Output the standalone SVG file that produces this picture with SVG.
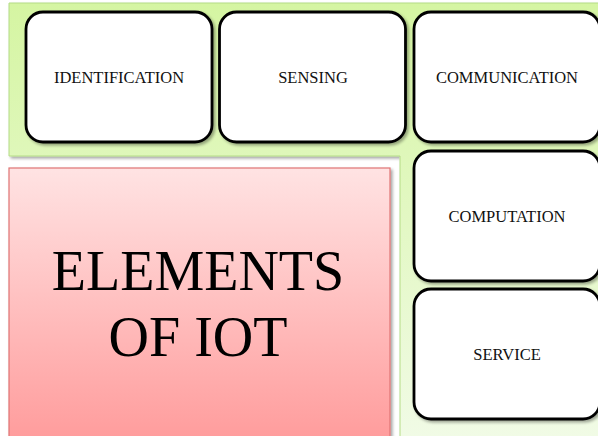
<svg xmlns="http://www.w3.org/2000/svg" width="598" height="436" viewBox="0 0 598 436">
  <defs>
    <linearGradient id="greenFill" x1="0" y1="0" x2="0" y2="1">
      <stop offset="0" stop-color="#d5f5a2"/>
      <stop offset="1" stop-color="#f1fbe6"/>
    </linearGradient>
    <linearGradient id="redFill" x1="0" y1="0" x2="0" y2="1">
      <stop offset="0" stop-color="#ffe3e3"/>
      <stop offset="1" stop-color="#ff9c9c"/>
    </linearGradient>
    <filter id="shadow" x="-5%" y="-5%" width="115%" height="115%">
      <feGaussianBlur in="SourceAlpha" stdDeviation="1.5"/>
      <feOffset dx="2" dy="2" result="b"/>
      <feComponentTransfer><feFuncA type="linear" slope="0.35"/></feComponentTransfer>
      <feMerge><feMergeNode/><feMergeNode in="SourceGraphic"/></feMerge>
    </filter>
  </defs>
  <style>
    .item rect { fill: #ffffff; stroke: #000000; stroke-width: 2.8; }
    .item text { font-family: "Liberation Serif", "Times New Roman", serif; font-size: 16.5px; fill: #111111; text-anchor: middle; }
    .title text { font-family: "Liberation Serif", "Times New Roman", serif; font-size: 56px; fill: #000000; text-anchor: middle; }
  </style>

  <rect width="598" height="436" fill="#ffffff"/>

  <!-- L-shaped backdrop behind the element cards -->
  <g id="backdrop">
    <path d="M9,3 H600 V440 H400 V156 H9 Z" fill="url(#greenFill)" stroke="#b5dc86" stroke-width="1" filter="url(#shadow)"/>
  </g>

  <!-- Title block -->
  <g id="title" class="title">
    <rect x="9" y="168" width="381" height="272" fill="url(#redFill)" stroke="#e07474" stroke-width="1.2" filter="url(#shadow)"/>
    <text x="198" y="290">ELEMENTS</text>
    <text x="198" y="356">OF IOT</text>
  </g>

  <g id="identification" class="item">
    <rect x="26" y="12" width="186" height="130" rx="17" filter="url(#shadow)"/>
    <text x="119" y="83">IDENTIFICATION</text>
  </g>
  <g id="sensing" class="item">
    <rect x="219.5" y="12" width="186" height="130" rx="17" filter="url(#shadow)"/>
    <text x="313" y="83">SENSING</text>
  </g>
  <g id="communication" class="item">
    <rect x="414" y="12" width="186" height="130" rx="17" filter="url(#shadow)"/>
    <text x="507" y="83">COMMUNICATION</text>
  </g>
  <g id="computation" class="item">
    <rect x="414" y="151" width="186" height="130" rx="17" filter="url(#shadow)"/>
    <text x="507" y="222">COMPUTATION</text>
  </g>
  <g id="service" class="item">
    <rect x="414" y="289" width="186" height="130" rx="17" filter="url(#shadow)"/>
    <text x="507" y="360">SERVICE</text>
  </g>

  <!-- no connectors in this layout -->
  <g id="connectors"/>
</svg>
